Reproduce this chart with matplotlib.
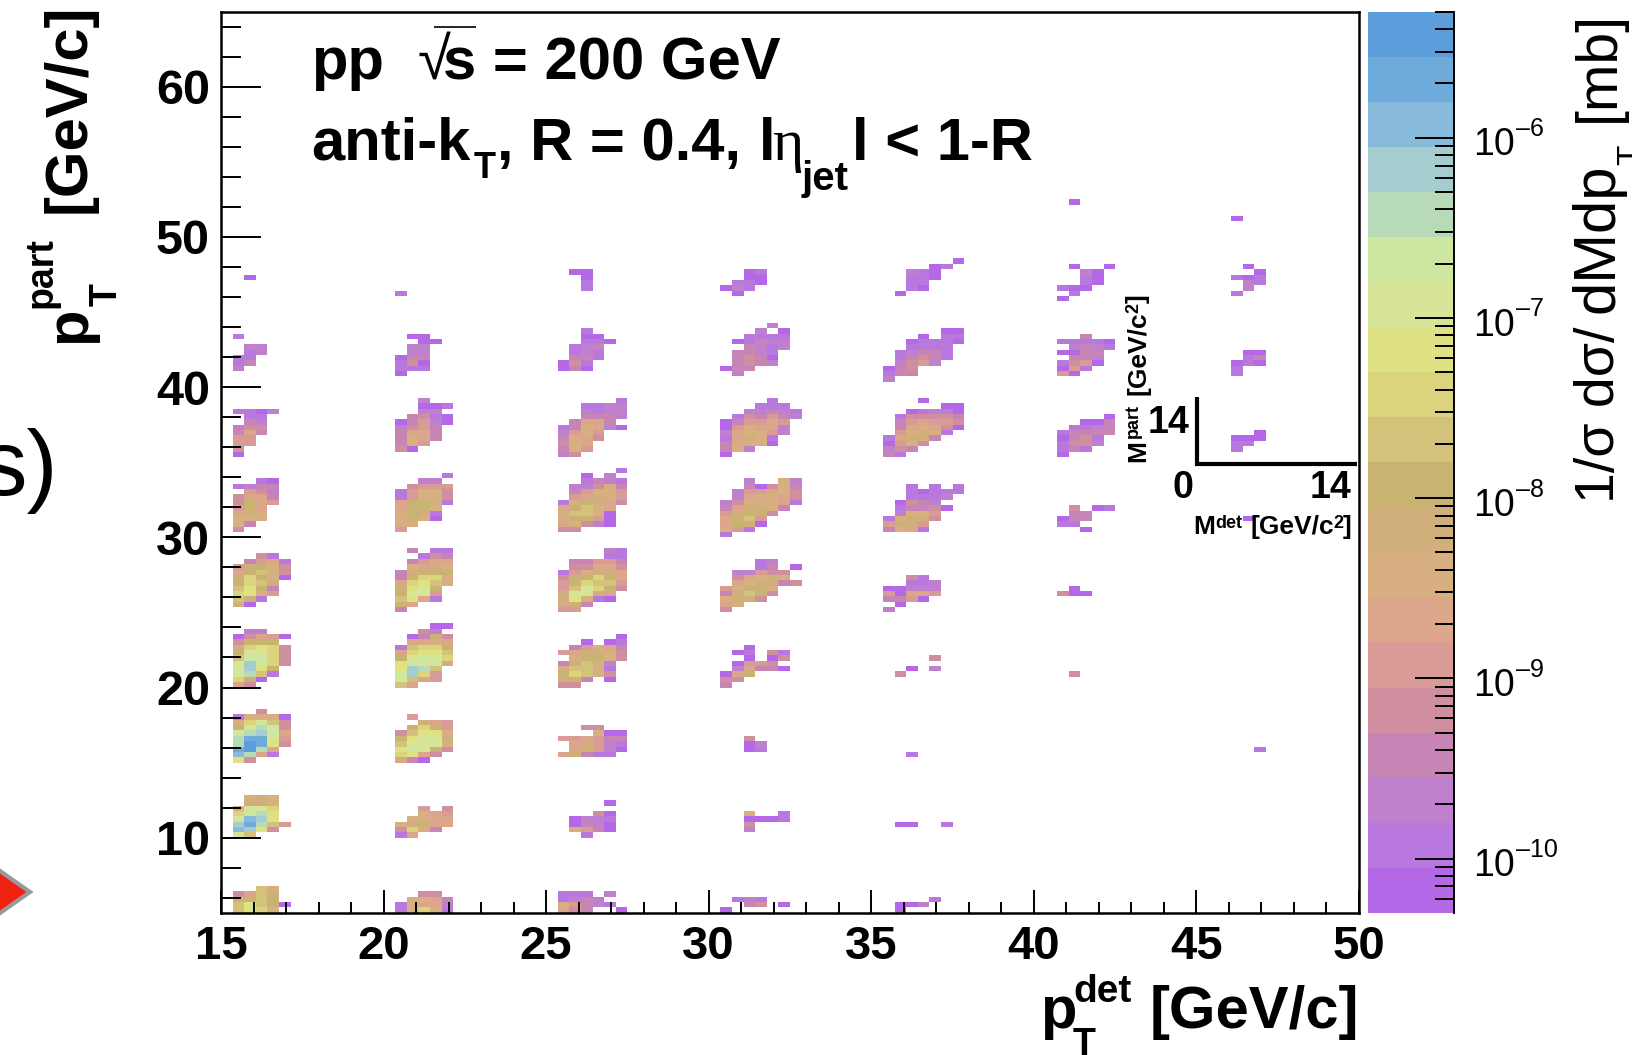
import numpy as np
import matplotlib
matplotlib.use('Agg')
import matplotlib.pyplot as plt
from matplotlib.colors import ListedColormap, BoundaryNorm
from matplotlib.lines import Line2D
from matplotlib.patches import Polygon

plt.rcParams['font.family'] = ['Liberation Sans', 'DejaVu Sans']

# colour levels of the z axis, bottom to top
level_colors = ['#B468E8', '#B878DD', '#BF80CE', '#C685B4', '#CF8F9F',
                '#D89B95', '#DCA68B', '#D8AF80', '#D0AF7B', '#C9B372',
                '#D3C27A', '#DBD47C', '#DEE283', '#D6E597', '#CDE7A1',
                '#B7DAB8', '#A5CCCF', '#88BADB', '#6FABDA', '#5B9EDB']
z_min = 5e-11
z_max = 5e-6
z_major = [1e-10, 1e-9, 1e-8, 1e-7, 1e-6]
z_labels = ['\u201310', '\u20139', '\u20138', '\u20137', '\u20136']

x_major = [15, 20, 25, 30, 35, 40, 45, 50]
y_major = [10, 20, 30, 40, 50, 60]

# one list per pt bin: rows from bottom, one char per mass bin
# '.' empty, 0-9 a-j = colour level
p15_05 = [".acb7", ".aca90", ".89a9", ".46a8", "...a7"]
p15_10 = [".da", ".hgc4", ".gifa5", ".dhgc", ".befc", ".7ddb", "..887", "..787"]
p15_15 = [".c4", ".hf61", ".ijf6", ".fjic4", ".fiid5", ".dfge6", ".8dfe4", ".7bda4", ".17770", "...4"]
p15_20 = [".64", ".b90", ".dfa1", ".dgc9", ".dgeb4", ".aeeb4", ".9ddb4", ".6bcb4", ".4999", ".04650", "..22"]
p15_25 = ["", ".80", ".a81", ".bc75", ".ac93", ".9ba8", ".8b970", ".69a74", ".58974", "..3561", "...41"]
p15_30 = ["", ".4", ".73", ".777", ".687", ".596", ".4965", ".4663", "..542", ".1233", "...10"]
p15_35 = ["", ".0", ".4", ".55", ".55", ".363", ".244", "..32", "..11", ".1102"]
p15_40 = ["", "", "", ".2", ".13", ".11", "..12", "..22", "", ".1"]
p15_45 = ["", "", "", "", "", "", "..0"]

p20_05 = [".17b71", ".17662", "..7763", "...44"]
p20_10 = [".16", ".4b73", ".78966", "..7766", "...765", "...5.4"]
p20_15 = [".830", ".bc64", ".ced94", ".addd7", ".9cdd8", ".4acc7", "..8b95", "...865", "..5"]
p20_20 = [".a6", ".da65", ".egb5", ".cgfa", ".cede8", ".9dedb", ".6bcca", ".1abb9", "..6676", "..0384", "...42", "....00"]
p20_25 = [".3", ".86", ".ac61", ".9dd5", ".9cd9", ".6bca7", ".39bb7", ".38999", "..7667", "..3566", "...143", "..3.11"]
p20_30 = ["", ".5", ".77", ".7970", ".7981", ".6997", ".69971", ".15774", ".15774", "..4555", "...22", ".....1"]
p20_35 = ["", "", ".40", ".375", ".3763", ".3663", ".2453", ".03520", "..3410", "...22", "...001", "...2"]
p20_40 = ["", "", ".0", ".111", ".140", ".033", "..22", "..22", "...00", "..00"]
p20_45 = ["", "", "", ".1"]

p25_05 = [".643..0", ".75321", ".1232", ".111.2"]
p25_10 = ["...1", "..7530", "..0320", "..0221", "....40", "", ".....0"]
p25_15 = ["", ".68311", "..68520", "..68521", ".556533", "....700", "...44"]
p25_20 = [".44", ".883.0", ".9ba74", ".7aa71", ".38a72", "..79974", ".568874", "..35763", "...0.01", "......0"]
p25_25 = [".55", ".683", ".8c710", ".8dd86", ".5adb94", ".59baa5", ".489b96", ".157886", "..44664", "..33553", ".....11", ".....21"]
p25_30 = ["", ".44", ".67420", ".79950", ".7aa70", ".69a76", ".179864", "..56875", "..35775", "..22473", "...1321", "...0.2", "......1"]
p25_35 = ["", ".24", ".375", ".476", ".3764", ".2575", ".137620", "..3663", "...3332", "...2122", "...1122", "......1"]
p25_40 = ["", "", "", ".030", ".041", "..331", "..121", "..123", "...110", "...00", "...1"]
p25_45 = ["", "", "", "", "...1", "...1", "...0", "..00"]

p30_05 = [".0", "...34.0", "..121"]
p30_10 = ["", "...2", "...4", "...0001", "...7..1"]
p30_15 = ["", "", "...01", "...02", "...4"]
p30_20 = [".3", ".44", ".069", "..26330", "..0554", "...0.04", "..01.41", "...0"]
p30_25 = [".4", ".67", ".7884", ".38a94", ".57997", "..678834", "..46787", "..22544", "....13.0", "....12"]
p30_30 = [".1", ".751", ".6980", ".69a5", ".58994", ".368873", ".2477761", "..267764", "..255674", "...30473", "...2..72"]
p30_35 = ["", ".0", ".372", ".37770", ".16871", ".267752", ".057662", ".035565", "..143532", "...22321", "....111", ".....1"]
p30_40 = ["", "", "..2", ".033", "..3432", "..3430", "..3321", "...3212", "..01322", "...1111", "....2.0", ".....2"]
p30_45 = ["", "", "", "..0", ".021", "..110", "...00", "...01"]

p35_05 = ["..0", "..002", ".....1"]
p35_10 = ["", "", "..00..1"]
p35_15 = ["", "...1"]
p35_20 = ["", "", "..4", "...0.2", "", ".....4"]
p35_25 = [".2", "..0", ".3350", ".50665", ".00222", "...112", "...41"]
p35_30 = ["", ".3761", ".5885", ".17884", "..2775", "..13340", "..0432", "...1112", "...10111", "...1.1.1"]
p35_35 = ["", ".31", ".243", ".0574", ".16883", "..57871", "..367640", "..356554", "..144443", "...01220", "......00", "....0"]
p35_40 = ["", ".2", ".133", ".034", "..2452", "..13431", "..12331", "...1111", "...01110", "....0.11", "......00"]
p35_45 = ["", "", "", "..0", "...10", "...11", "...110", "...210", ".....01", ".......0"]

p40_20 = ["", "", "...4"]
p40_25 = ["", "", "", "..400", "...0"]
p40_30 = ["", "....0", "..11", "..033", "...33", "...4.01"]
p40_35 = ["", "..0", "..131", "..1442", "..0341", "..13333", "...1123", "....003", "......0"]
p40_40 = ["", "", "..50", "..051", "..1450", "...332", "..0033", "...2321", "..11110", "....3"]
p40_45 = ["", "", "..0", "...1", "..100", "....10", "....10", "....20", "...0..0"]
p40_50 = ["", "", "", "", "", "", "...0"]

p45_15 = ["", "", ".....1"]
p45_30 = ["", "", "", "....0"]
p45_35 = ["", "", "...1", "...11", "...000", ".....0"]
p45_40 = ["", "", "...1", "...1", "...010", "....13", "....00"]
p45_45 = ["", "", "", "...1", "....2", "....21", "...101", ".....0", "....0"]
p45_50 = ["", "", "", "...0"]

panels = {
    (15, 5): p15_05, (15, 10): p15_10, (15, 15): p15_15, (15, 20): p15_20, (15, 25): p15_25,
    (15, 30): p15_30, (15, 35): p15_35, (15, 40): p15_40, (15, 45): p15_45,
    (20, 5): p20_05, (20, 10): p20_10, (20, 15): p20_15, (20, 20): p20_20, (20, 25): p20_25,
    (20, 30): p20_30, (20, 35): p20_35, (20, 40): p20_40, (20, 45): p20_45,
    (25, 5): p25_05, (25, 10): p25_10, (25, 15): p25_15, (25, 20): p25_20, (25, 25): p25_25,
    (25, 30): p25_30, (25, 35): p25_35, (25, 40): p25_40, (25, 45): p25_45,
    (30, 5): p30_05, (30, 10): p30_10, (30, 15): p30_15, (30, 20): p30_20, (30, 25): p30_25,
    (30, 30): p30_30, (30, 35): p30_35, (30, 40): p30_40, (30, 45): p30_45,
    (35, 5): p35_05, (35, 10): p35_10, (35, 15): p35_15, (35, 20): p35_20, (35, 25): p35_25,
    (35, 30): p35_30, (35, 35): p35_35, (35, 40): p35_40, (35, 45): p35_45,
    (40, 20): p40_20, (40, 25): p40_25, (40, 30): p40_30, (40, 35): p40_35,
    (40, 40): p40_40, (40, 45): p40_45, (40, 50): p40_50,
    (45, 15): p45_15, (45, 30): p45_30, (45, 35): p45_35, (45, 40): p45_40,
    (45, 45): p45_45, (45, 50): p45_50,
}

W = 1632
H = 1055
fig = plt.figure(figsize=(W / 100, H / 100), dpi=100)


def box(left, top, right, bottom):
    return [left / W, 1 - bottom / H, (right - left) / W, (bottom - top) / H]


def put(x, y, s, size, weight='bold', **kw):
    # x, y in pixels from top left, y is the baseline
    kw.setdefault('ha', 'left')
    kw.setdefault('va', 'baseline')
    if 'rotation' in kw:
        kw['rotation_mode'] = 'anchor'
    return fig.text(x / W, 1 - y / H, s, fontsize=size, fontweight=weight, **kw)


def fig_line(xs, ys, lw, color='black', **kw):
    fig.add_artist(Line2D([x / W for x in xs], [1 - y / H for y in ys], lw=lw, color=color,
                          transform=fig.transFigure, solid_capstyle='butt', **kw))


# 2D histogram, 14 mass bins for each 5 GeV of pt
step = 5 / 14
x_edges = 15 + np.arange(99) * step
y_edges = 5 + np.arange(169) * step
z = np.full((168, 98), np.nan)
digits = '0123456789abcdefghij'
for (x0, y0), rows in panels.items():
    for r, row in enumerate(rows):
        for c, ch in enumerate(row):
            if ch != '.':
                z[(y0 - 5) * 14 // 5 + r, (x0 - 15) * 14 // 5 + c] = digits.index(ch)

cmap = ListedColormap(level_colors)
norm = BoundaryNorm(np.arange(21) - 0.5, 20)

ax = fig.add_axes(box(221, 11.7, 1359, 912.8))
ax.pcolormesh(x_edges, y_edges, z, cmap=cmap, norm=norm, antialiased=False, linewidth=0)
ax.set_xlim(15, 50)
ax.set_ylim(5, 65)
ax.set_axisbelow(False)
ax.set_xticks(x_major)
ax.set_xticks(np.arange(15, 51), minor=True)
ax.set_yticks(y_major)
ax.set_yticks(np.arange(6, 65, 2), minor=True)
ax.tick_params(axis='x', which='major', direction='in', length=16.3, width=1.4, pad=9, labelsize=34)
ax.tick_params(axis='x', which='minor', direction='in', length=8, width=1.4)
ax.tick_params(axis='y', which='major', direction='in', length=28.6, width=1.4, pad=8, labelsize=35)
ax.tick_params(axis='y', which='minor', direction='in', length=14.4, width=1.4)
for lab in ax.get_xticklabels() + ax.get_yticklabels():
    lab.set_fontweight('bold')
for sp in ax.spines.values():
    sp.set_linewidth(1.8)

# colour scale
cax = fig.add_axes(box(1368, 11.7, 1454, 912.8))
cb_edges = np.logspace(np.log10(z_min), np.log10(z_max), 21)
cax.pcolormesh([0, 1], cb_edges, np.arange(20)[:, None], cmap=cmap, norm=norm)
cax.set_yscale('log')
cax.set_ylim(z_min, z_max)
cax.set_xlim(0, 1)
cax.set_xticks([])
cax.yaxis.tick_right()
cax.set_yticks(z_major)
cax.set_yticks([m * 10.0 ** e for e in range(-11, -5) for m in range(2, 10)
                if z_min <= m * 10.0 ** e <= z_max], minor=True)
cax.set_yticklabels([])
cax.set_yticklabels([], minor=True)
cax.tick_params(axis='y', which='major', direction='in', length=28, width=1.4)
cax.tick_params(axis='y', which='minor', direction='in', length=13.7, width=1.4)
for name, sp in cax.spines.items():
    sp.set_visible(name == 'right')
cax.spines['right'].set_linewidth(1.4)
for val, lab in zip(z_major, z_labels):
    tr = cax.get_yaxis_transform()
    cax.annotate('10', xy=(1, val), xycoords=tr, xytext=(14, -12.7), textcoords='offset points',
                 fontsize=27, ha='left', va='baseline')
    cax.annotate(lab, xy=(1, val), xycoords=tr, xytext=(45, 1), textcoords='offset points',
                 fontsize=18, ha='left', va='baseline')

# header
put(311, 79, 'pp', 43)
put(418, 79, '\u221a', 43, weight='normal')
fig_line([434, 476], [27, 27], 1.2)
put(443, 79, 's = 200 GeV', 43)
put(311, 160, 'anti-k', 43)
put(474, 178, 'T', 26)
put(497, 160, ', R = 0.4,', 43)
put(759, 160, 'l', 43)
put(772, 160, '\u03b7', 43, weight='normal', family='Liberation Serif')
put(802, 190, 'jet', 29)
put(852, 160, 'l < 1-R', 43)

# axis titles
put(1040, 1028, 'p', 43)
put(1073, 1002, 'det', 28)
put(1073, 1055, 'T', 27)
put(1359, 1028, '[GeV/c]', 43, ha='right')

put(85, 343, 'p', 43, rotation=90)
put(52, 308, 'part', 27, rotation=90)
put(117, 306, 'T', 27, rotation=90)
put(85, 213, '[GeV/c]', 43, rotation=90)

put(1614, 503, '1/\u03c3 d\u03c3/', 40, weight='normal', rotation=90)
put(1614, 313, 'dMdp', 43, weight='normal', rotation=90)
put(1640, 165, 'T', 24, weight='normal', rotation=90)
put(1614, 122, '[mb]', 41, weight='normal', rotation=90)

# mass scale key of one panel
fig_line([1197, 1197], [397, 466], 3.0)
fig_line([1195, 1357], [464, 464], 3.0)
put(1148, 433, '14', 27)
put(1172, 498, '0', 27)
put(1310, 498, '14', 27)
put(1193, 534, 'M', 19)
put(1215, 528, 'det', 13)
put(1251, 534, '[GeV/c', 19)
put(1333, 528, '2', 13)
put(1343, 534, ']', 19)
put(1145, 462, 'M', 19, rotation=90)
put(1138, 438, 'part', 13, rotation=90)
put(1145, 395, '[GeV/c', 19, rotation=90)
put(1138, 313, '2', 13, rotation=90)
put(1145, 303, ']', 19, rotation=90)

# leftovers of the neighbouring slide content
put(58, 495, 's)', 67, weight='normal', ha='right')
fig.add_artist(Polygon([(-10 / W, 1 - 864 / H), (30 / W, 1 - 892 / H), (-10 / W, 1 - 920 / H)],
                       closed=True, facecolor='#EE2211', edgecolor='#999999', lw=3,
                       transform=fig.transFigure))

fig.savefig('out.png', dpi=100)
